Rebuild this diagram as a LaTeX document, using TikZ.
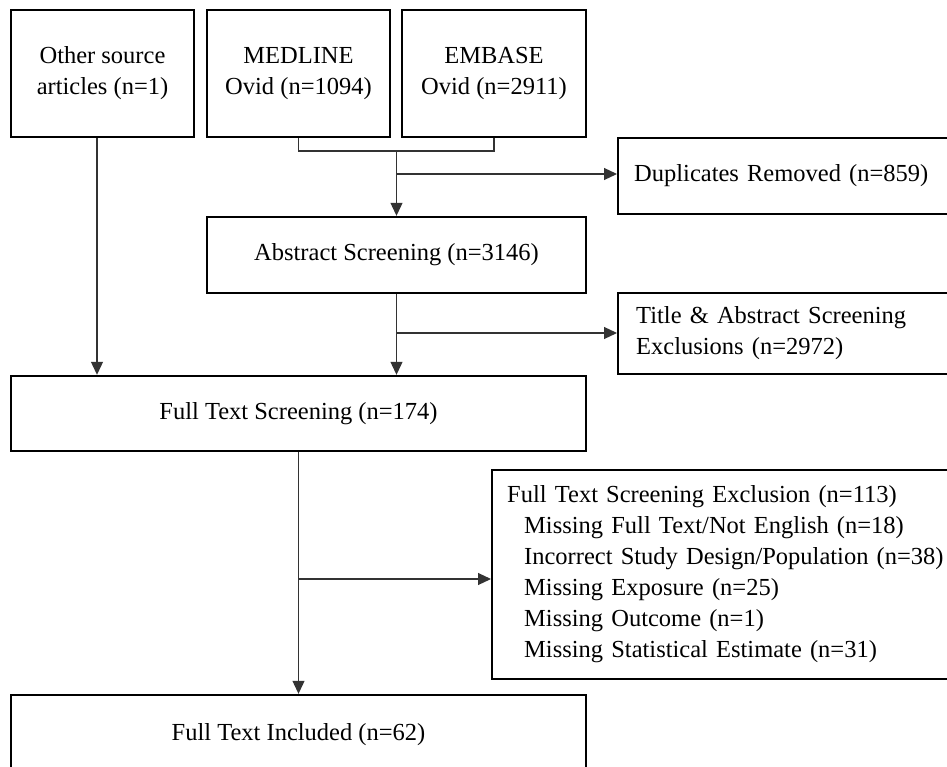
\documentclass[tikz,border=0pt]{standalone}
\usepackage{fontspec}
\setmainfont{Liberation Serif}
\usetikzlibrary{arrows.meta}

\begin{document}
\begin{tikzpicture}[x=1pt,y=-1pt,>={Triangle[length=13pt,width=12pt]},line join=miter,
  box/.style={draw,line width=2.4pt,inner sep=0pt,align=center,font=\fontsize{24.5}{31}\selectfont},
  lbox/.style={box,anchor=west,align=left,inner ysep=0pt},
  conn/.style={line width=1.1pt,black!80},
  arrow/.style={conn,->}]
\clip (0,0) rectangle (947,767);
\fill[white] (0,0) rectangle (947,767);
% sources
\node[box,minimum width=183,minimum height=127] (other) at (102.5,73.5) {Other source\\articles (n=1)};
\node[box,minimum width=183,minimum height=127] (medline) at (298.5,73.5) {MEDLINE\\Ovid (n=1094)};
\node[box,minimum width=184,minimum height=127] (embase) at (494,73.5) {EMBASE\\Ovid (n=2911)};
% screening column
\node[box,minimum width=379,minimum height=76] (abstract) at (396.5,255) {Abstract Screening (n=3146)};
\node[box,minimum width=575,minimum height=75] (full) at (298.5,413.5) {Full Text Screening (n=174)};
\node[box,minimum width=575,minimum height=80] (incl) at (298.5,735) {Full Text Included (n=62)};
% exclusions
\node[lbox,inner xsep=16pt,text width=320pt,minimum height=76] (dup) at (617,176) {Duplicates Removed (n=859)};
\node[lbox,inner xsep=18pt,text width=320pt,minimum height=81] (title) at (617,333.5) {Title \& Abstract Screening\\Exclusions (n=2972)};
\node[lbox,inner xsep=15pt,text width=440pt,minimum height=209] (excl) at (491,574.5) {Full Text Screening Exclusion (n=113)\\
  \hspace*{17pt}Missing Full Text/Not English (n=18)\\
  \hspace*{17pt}Incorrect Study Design/Population (n=38)\\
  \hspace*{17pt}Missing Exposure (n=25)\\
  \hspace*{17pt}Missing Outcome (n=1)\\
  \hspace*{17pt}Missing Statistical Estimate (n=31)};
% connectors
\coordinate (join) at (396.5,151);
\coordinate (dupfork) at (396.5,174);
\coordinate (titlefork) at (396.5,333);
\coordinate (exclfork) at (298.5,579);
\draw[conn] (medline.south) |- (join) -| (embase.south);
\draw[arrow] (join) -- (abstract.north);
\draw[arrow] (dupfork) -- (dupfork -| dup.west);
\draw[arrow] (abstract.south) -- (abstract.south |- full.north);
\draw[arrow] (titlefork) -- (titlefork -| title.west);
\draw[arrow] ([xshift=-5.5pt]other.south) -- ([xshift=-5.5pt]other.south |- full.north);
\draw[arrow] (full.south) -- (incl.north);
\draw[arrow] (exclfork) -- (exclfork -| excl.west);
\end{tikzpicture}
\end{document}
